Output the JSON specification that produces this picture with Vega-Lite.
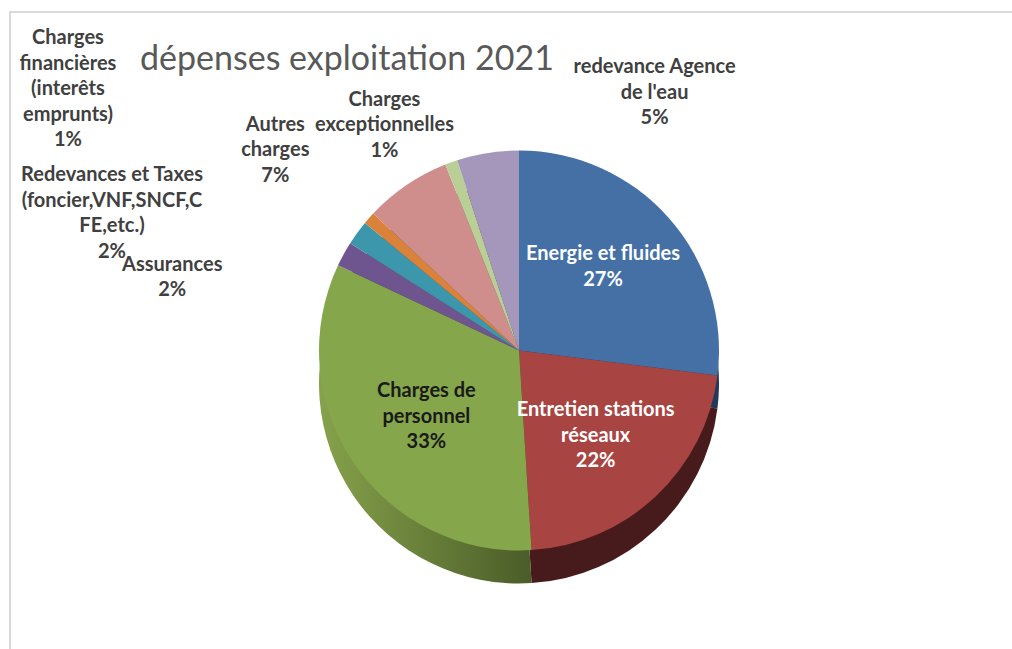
{
  "$schema": "https://vega.github.io/schema/vega-lite/v6.json",
  "autosize": {"type": "none"},
  "padding": {"left": 10, "top": 12, "right": -10, "bottom": -10},
  "width": 1012,
  "height": 647,
  "background": "white",
  "view": {"stroke": "#D9D9D9", "strokeWidth": 2, "fill": "white"},
  "title": {
    "text": "dépenses exploitation 2021",
    "anchor": "start",
    "frame": "group",
    "orient": "none",
    "offset": 0,
    "dx": 130,
    "dy": 58,
    "baseline": "alphabetic",
    "font": "Lato",
    "fontSize": 34,
    "fontWeight": "normal",
    "color": "#595959"
  },
  "data": {
    "values": [
      {"category": "Energie et fluides", "label": "Energie et fluides\n27%", "value": 27, "order": 1},
      {"category": "Entretien stations réseaux", "label": "Entretien stations\nréseaux\n22%", "value": 22, "order": 2},
      {"category": "Charges de personnel", "label": "Charges de\npersonnel\n33%", "value": 33, "order": 3},
      {"category": "Assurances", "label": "Assurances\n2%", "value": 2, "order": 4},
      {"category": "Redevances et Taxes (foncier,VNF,SNCF,CFE,etc.)", "label": "Redevances et Taxes\n(foncier,VNF,SNCF,C\nFE,etc.)\n2%", "value": 2, "order": 5},
      {"category": "Charges financières (interêts emprunts)", "label": "Charges\nfinancières\n(interêts\nemprunts)\n1%", "value": 1, "order": 6},
      {"category": "Autres charges", "label": "Autres\ncharges\n7%", "value": 7, "order": 7},
      {"category": "Charges exceptionnelles", "label": "Charges\nexceptionnelles\n1%", "value": 1, "order": 8},
      {"category": "redevance Agence de l'eau", "label": "redevance Agence\nde l'eau\n5%", "value": 5, "order": 9}
    ]
  },
  "encoding": {
    "theta": {"field": "value", "type": "quantitative", "stack": true},
    "order": {"field": "order", "type": "quantitative"}
  },
  "layer": [
    {
      "mark": {"type": "arc", "radius": 200, "xOffset": 3, "yOffset": 48},
      "encoding": {
        "fill": {
          "condition": {
            "test": "datum.order === 3",
            "value": {"gradient": "linear", "x1": 0, "y1": 0, "x2": 1, "y2": 0,
              "stops": [{"offset": 0, "color": "#86A24B"}, {"offset": 1, "color": "#4A5C28"}]}
          },
          "field": "category",
          "type": "nominal",
          "sort": {"field": "order"},
          "scale": {"range": ["#22395A", "#471B1B", "#5E7A35", "#3A2C4A", "#1F4C58", "#6E421D", "#684847", "#5D684B", "#534B5E"]},
          "legend": null
        }
      }
    },
    {
      "mark": {"type": "arc", "radius": 200, "xOffset": 3, "yOffset": 15},
      "encoding": {
        "color": {
          "field": "category",
          "type": "nominal",
          "sort": {"field": "order"},
          "scale": {"range": ["#4470A6", "#A84442", "#86A64C", "#6F5590", "#3C97AD", "#DA823A", "#CF8D8C", "#B9CF96", "#A596BC"]},
          "legend": null
        }
      }
    },
    {
      "mark": {"type": "text", "radius": 112, "xOffset": 3, "yOffset": 15, "dy": -22, "font": "Lato", "fontWeight": "bold", "fontSize": 20, "lineHeight": 25.5, "lineBreak": "\n"},
      "encoding": {
        "text": {"condition": {"test": "datum.order <= 3", "field": "label", "type": "nominal"}, "value": ""},
        "color": {"condition": {"test": "datum.order === 3", "value": "#1A1A1A"}, "value": "#FFFFFF"}
      }
    },
    {
      "mark": {"type": "text", "radius": 220, "xOffset": 3, "yOffset": 15, "dx": -154, "dy": 20, "font": "Lato", "fontWeight": "bold", "fontSize": 20, "lineHeight": 25.5, "lineBreak": "\n", "color": "#404040"},
      "encoding": {"text": {"condition": {"test": "datum.order === 4", "field": "label", "type": "nominal"}, "value": ""}}
    },
    {
      "mark": {"type": "text", "radius": 220, "xOffset": 3, "yOffset": 15, "dx": -229, "dy": -46, "font": "Lato", "fontWeight": "bold", "fontSize": 20, "lineHeight": 25.5, "lineBreak": "\n", "color": "#404040"},
      "encoding": {"text": {"condition": {"test": "datum.order === 5", "field": "label", "type": "nominal"}, "value": ""}}
    },
    {
      "mark": {"type": "text", "radius": 220, "xOffset": 3, "yOffset": 15, "dx": -286, "dy": -167, "font": "Lato", "fontWeight": "bold", "fontSize": 20, "lineHeight": 25.5, "lineBreak": "\n", "color": "#404040"},
      "encoding": {"text": {"condition": {"test": "datum.order === 6", "field": "label", "type": "nominal"}, "value": ""}}
    },
    {
      "mark": {"type": "text", "radius": 220, "xOffset": 3, "yOffset": 15, "dx": -120, "dy": -44, "font": "Lato", "fontWeight": "bold", "fontSize": 20, "lineHeight": 25.5, "lineBreak": "\n", "color": "#404040"},
      "encoding": {"text": {"condition": {"test": "datum.order === 7", "field": "label", "type": "nominal"}, "value": ""}}
    },
    {
      "mark": {"type": "text", "radius": 220, "xOffset": 3, "yOffset": 15, "dx": -60, "dy": -44, "font": "Lato", "fontWeight": "bold", "fontSize": 20, "lineHeight": 25.5, "lineBreak": "\n", "color": "#404040"},
      "encoding": {"text": {"condition": {"test": "datum.order === 8", "field": "label", "type": "nominal"}, "value": ""}}
    },
    {
      "mark": {"type": "text", "radius": 220, "xOffset": 3, "yOffset": 15, "dx": 170, "dy": -66, "font": "Lato", "fontWeight": "bold", "fontSize": 20, "lineHeight": 25.5, "lineBreak": "\n", "color": "#404040"},
      "encoding": {"text": {"condition": {"test": "datum.order === 9", "field": "label", "type": "nominal"}, "value": ""}}
    }
  ],
  "config": {"view": {"stroke": "#D9D9D9", "strokeWidth": 2}}
}
